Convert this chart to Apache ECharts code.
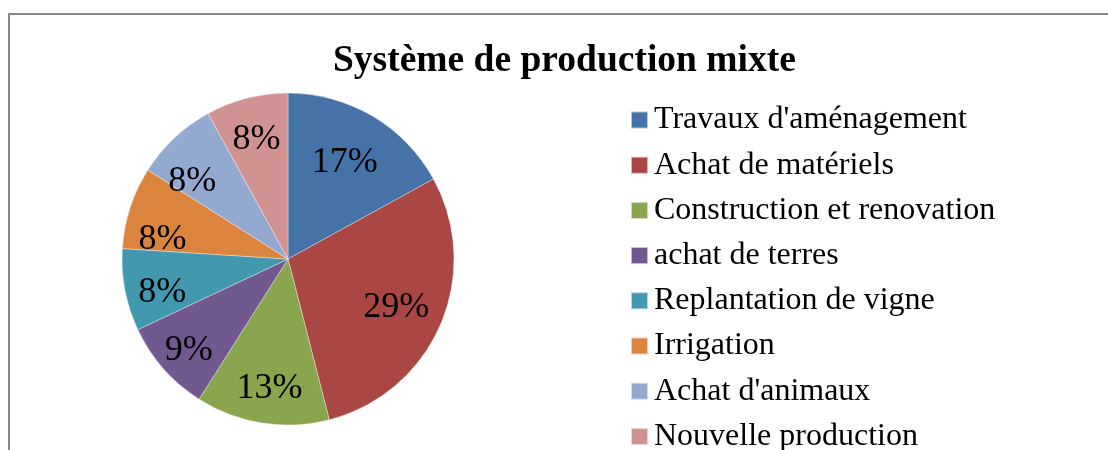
<!DOCTYPE html>
<html>
<head>
<meta charset="utf-8">
<script src="https://cdn.jsdelivr.net/npm/echarts@6/dist/echarts.min.js"></script>
<style>
  html, body { margin: 0; padding: 0; background: #fff; }
  #chart { width: 1108px; height: 450px; }
</style>
</head>
<body>
<div id="chart"></div>
<script>
// Investment breakdown for the mixed production system (shares in %)
const categories = [
  "Travaux d'aménagement",
  "Achat de matériels",
  "Construction et renovation",
  "achat de terres",
  "Replantation de vigne",
  "Irrigation",
  "Achat d'animaux",
  "Nouvelle production"
];
const shares = [17, 29, 13, 9, 8, 8, 8, 8];
const sliceColors = ['#4572A7', '#AA4643', '#89A54E', '#71588F', '#4198AF', '#DB843D', '#93A9CF', '#D19392'];
const titleText = 'Système de production mixte';

// small per-slice nudges for the percentage labels (best-fit placement)
const labelNudge = [[-10, 16], [-12, -3], [2, 0], [-1, 5], [3, 9], [-1, 21], [-6, 18], [1, 7]];

const serif = '"Liberation Serif", "DejaVu Serif", serif';
const center = [288, 259];
const R = 166;

const pieData = categories.map((name, i) => ({ name, value: shares[i] }));
const labelData = categories.map((name, i) => ({
  name,
  value: shares[i],
  label: { offset: labelNudge[i] }
}));

const chart = echarts.init(document.getElementById('chart'), null, { renderer: 'canvas' });
chart.setOption({
  animation: false,
  color: sliceColors,
  title: {
    text: titleText,
    left: 333,
    top: 42,
    padding: 0,
    textStyle: { fontFamily: serif, fontWeight: 'bold', fontSize: 37.5, color: '#000' }
  },
  legend: {
    orient: 'vertical',
    left: 630,
    top: 104,
    height: 600,
    padding: 0,
    itemWidth: 17,
    itemHeight: 17,
    itemGap: 13.2,
    icon: 'rect',
    selectedMode: false,
    textStyle: { fontFamily: serif, fontSize: 32, color: '#000', padding: [0, 0, 0, 1] },
    data: categories
  },
  graphic: [{
    type: 'rect',
    shape: { x: 9, y: 14, width: 1200, height: 1000 },
    style: { fill: 'none', stroke: '#878787', lineWidth: 2 },
    silent: true
  }],
  series: [
    {
      type: 'pie',
      center: center,
      radius: [0, R],
      startAngle: 90,
      clockwise: true,
      data: pieData,
      label: { show: false },
      labelLine: { show: false },
      itemStyle: { borderColor: 'rgba(255,255,255,0.6)', borderWidth: 0.6 },
      emphasis: { disabled: true }
    },
    {
      // transparent ring that carries the percentage labels
      type: 'pie',
      center: center,
      radius: [90, R],
      startAngle: 90,
      clockwise: true,
      data: labelData,
      silent: true,
      itemStyle: { color: 'rgba(0,0,0,0)' },
      label: {
        show: true,
        position: 'inside',
        formatter: p => p.value + '%',
        fontFamily: serif,
        fontSize: 36,
        color: '#000'
      },
      labelLine: { show: false },
      emphasis: { disabled: true }
    }
  ]
});
</script>
</body>
</html>
